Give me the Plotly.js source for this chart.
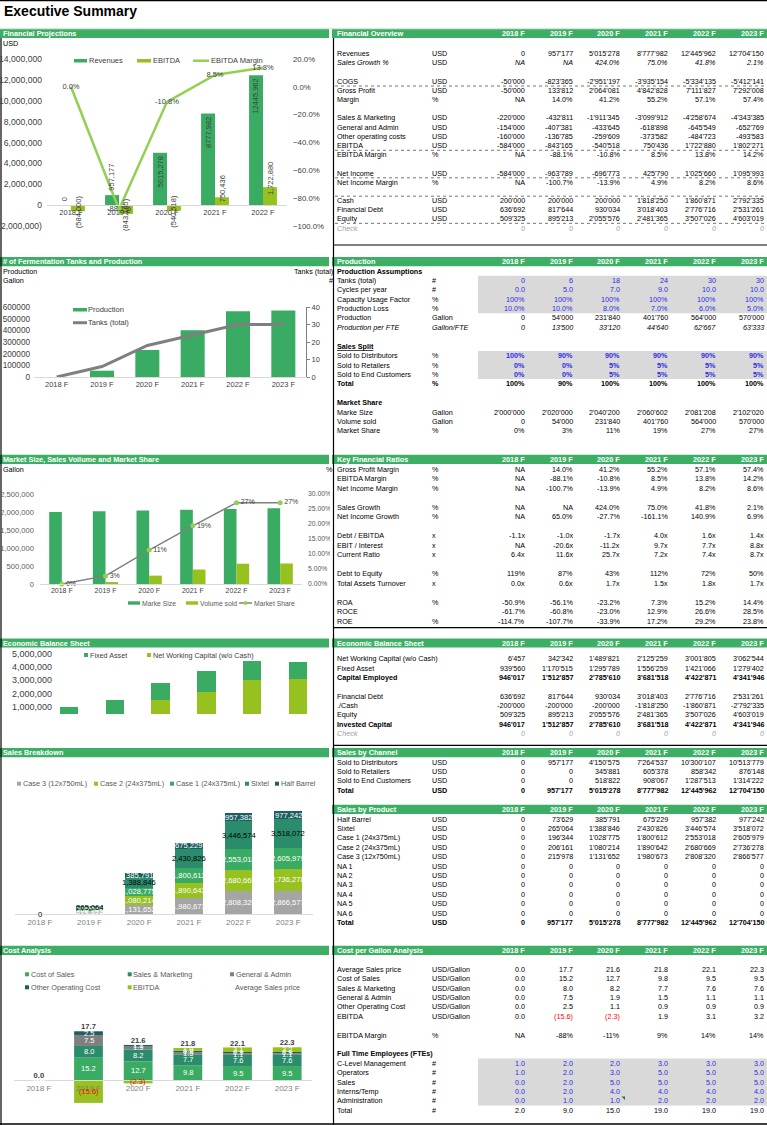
<!DOCTYPE html>
<html>
<head>
<meta charset="utf-8">
<title>Executive Summary</title>
<script src="https://cdn.plot.ly/plotly-3.0.1.min.js"></script>
<style>
html,body{margin:0;padding:0;background:#ffffff;}
#page{position:relative;width:767px;height:1125px;overflow:hidden;background:#fff;}
.layer{position:absolute;}
</style>
</head>
<body>
<div id="page">
  <div id="bg" class="layer"></div>
  <div id="c1" class="layer"></div>
  <div id="c2" class="layer"></div>
  <div id="c3" class="layer"></div>
  <div id="c4" class="layer"></div>
  <div id="c5" class="layer"></div>
  <div id="c6" class="layer"></div>
</div>
<script>
// ---------------- DATA ----------------
const years = ['2018 F','2019 F','2020 F','2021 F','2022 F','2023 F'];
const fpYears = ['2018 F','2019 F','2020 F','2021 F','2022 F'];

// Financial overview
const foRevenues = [0, 957177, 5015278, 8777982, 12445962, 12704150];
const foSalesGrowth = [null, null, 4.24, 0.75, 0.418, 0.021];
const foCogs = [-50000, -823365, -2951197, -3935154, -5334135, -5412141];
const foGrossProfit = [-50000, 133812, 2064081, 4842828, 7111827, 7292008];
const foMargin = [null, 0.140, 0.412, 0.552, 0.571, 0.574];
const foSalesMkt = [-220000, -432811, -1911345, -3099912, -4258674, -4343385];
const foGenAdmin = [-154000, -407381, -433645, -618898, -645549, -652769];
const foOtherCosts = [-160000, -136785, -259609, -373582, -484723, -493583];
const foEbitda = [-584000, -843165, -540518, 750436, 1722880, 1802271];
const foEbitdaMargin = [null, -0.881, -0.108, 0.085, 0.138, 0.142];
const foNetIncome = [-584000, -963789, -696773, 425790, 1025660, 1095993];
const foNetMargin = [null, -1.007, -0.139, 0.049, 0.082, 0.086];
const foCash = [200000, 200000, 200000, 1818250, 1860871, 2792335];
const foDebt = [636692, 817644, 930034, 3018403, 2776716, 2531261];
const foEquity = [509325, 895213, 2055576, 2481365, 3507026, 4603019];
const foCheck = [0, 0, 0, 0, 0, 0];

// Financial projections chart (2018-2022)
const fpRevenues = [0, 957177, 5015278, 8777982, 12445962];
const fpEbitda = [-584000, -843165, -540518, 750436, 1722880];
const fpMargin = [0, -0.881, -0.108, 0.085, 0.138];

// Production
const tanks = [0, 6, 18, 24, 30, 30];
const cycles = [0, 5, 7, 9, 10, 10];
const capacity = [1, 1, 1, 1, 1, 1];
const prodLoss = [0.10, 0.10, 0.08, 0.07, 0.06, 0.05];
const production = [0, 54000, 231840, 401760, 564000, 570000];
const prodPerFte = [0, 13500, 33120, 44640, 62667, 63333];
const splitDist = [1, 0.9, 0.9, 0.9, 0.9, 0.9];
const splitRet = [0, 0, 0.05, 0.05, 0.05, 0.05];
const splitEnd = [0, 0, 0.05, 0.05, 0.05, 0.05];
const splitTotal = [1, 0.9, 1, 1, 1, 1];
const marketSize = [2000000, 2020000, 2040200, 2060602, 2081208, 2102020];
const volumeSold = [0, 54000, 231840, 401760, 564000, 570000];
const marketShare = [0, 0.027, 0.113, 0.194, 0.271, 0.271];

// Key financial ratios
const kNetGrowth = [null, 0.65, -0.277, -1.611, 1.409, 0.069];
const kDebtEbitda = [-1.1, -1.0, -1.7, 4.0, 1.6, 1.4];
const kEbitInterest = [null, -20.6, -11.2, 9.7, 7.7, 8.8];
const kCurrentRatio = [6.4, 11.6, 25.7, 7.2, 7.4, 8.7];
const kDebtEquity = [1.19, 0.87, 0.43, 1.12, 0.72, 0.50];
const kAssetTurnover = [0.0, 0.6, 1.7, 1.5, 1.8, 1.7];
const kRoa = [-0.509, -0.561, -0.232, 0.073, 0.152, 0.144];
const kRoce = [-0.617, -0.608, -0.230, 0.129, 0.266, 0.285];
const kRoe = [-1.147, -1.077, -0.339, 0.172, 0.292, 0.238];

// Economic balance sheet
const ebNwc = [6457, 342342, 1489821, 2125259, 3001805, 3062544];
const ebFixed = [939560, 1170515, 1295789, 1556259, 1421066, 1279402];
const ebCapEmployed = [946017, 1512857, 2785610, 3681518, 4422871, 4341946];
const ebCashNeg = [-200000, -200000, -200000, -1818250, -1860871, -2792335];

// Sales by channel
const chDist = [0, 957177, 4150575, 7264537, 10300107, 10513779];
const chRet = [0, 0, 345881, 605378, 858342, 876148];
const chEnd = [0, 0, 518822, 908067, 1287513, 1314222];

// Sales by product
const pHalfBarrel = [0, 73629, 385791, 675229, 957382, 977242];
const pSixtel = [0, 265064, 1388846, 2430826, 3446574, 3518072];
const pCase1 = [0, 196344, 1028775, 1800612, 2553018, 2605979];
const pCase2 = [0, 206161, 1080214, 1890642, 2680669, 2736278];
const pCase3 = [0, 215978, 1131652, 1980673, 2808320, 2866577];
const pNone = [0, 0, 0, 0, 0, 0];

// Cost per gallon
const cgPrice = [0.0, 17.7, 21.6, 21.8, 22.1, 22.3];
const cgCostSales = [0.0, 15.2, 12.7, 9.8, 9.5, 9.5];
const cgSalesMkt = [0.0, 8.0, 8.2, 7.7, 7.6, 7.6];
const cgGenAdmin = [0.0, 7.5, 1.9, 1.5, 1.1, 1.1];
const cgOther = [0.0, 2.5, 1.1, 0.9, 0.9, 0.9];
const cgEbitda = [0.0, -15.6, -2.3, 1.9, 3.1, 3.2];
const cgEbitdaMargin = [null, -0.88, -0.11, 0.09, 0.14, 0.14];
const fteCLevel = [1, 2, 2, 3, 3, 3];
const fteOperators = [1, 2, 3, 5, 5, 5];
const fteSales = [0, 2, 5, 5, 5, 5];
const fteInterns = [0, 2, 4, 4, 4, 4];
const fteAdmin = [0, 1, 1, 2, 2, 2];
const fteTotal = [2, 9, 15, 19, 19, 19];

// ---------------- STYLE ----------------
const FONT = 'Liberation Sans, Arial, Helvetica, sans-serif';
const HEAD = '#3DAF64', GREEN = '#3AAB63', LGREEN = '#96C11F', LINEG = '#92D050';
const TEAL = '#2B8C6C', DTEAL = '#1C5E61', GREY = '#A5A5A5', DGREY = '#7F7F7F';
const SHADE = '#D9D9D9', BLUE = '#2B2BEB', TXT = '#404040';
const CFG = {staticPlot: true, displayModeBar: false};

// ---------------- FORMATTERS ----------------
function sw(n) {
  const s = Math.abs(Math.round(n)).toString().replace(/\B(?=(\d{3})+(?!\d))/g, "'");
  return (n < 0 ? '-' : '') + s;
}
const F = {
  int: v => v === null ? 'NA' : sw(v),
  p1: v => v === null ? 'NA' : (v * 100).toFixed(1) + '%',
  p0: v => v === null ? 'NA' : Math.round(v * 100) + '%',
  x1: v => v === null ? 'NA' : v.toFixed(1) + 'x',
  d1: v => v.toFixed(1),
  d0: v => String(v),
  acc1: v => v < 0 ? '(' + Math.abs(v).toFixed(1) + ')' : v.toFixed(1)
};
const us = v => Math.abs(v).toLocaleString('en-US');
const acct = v => v < 0 ? '(' + us(v) + ')' : us(v);

// ---------------- BACKGROUND (tables, headers, legends) ----------------
const W = 767, H = 1125;
const px = x => x / W, py = y => 1 - y / H;
const ann = [], shp = [];
function T(x, y, text, o) {
  o = o || {};
  ann.push({xref: 'paper', yref: 'paper', x: px(x), y: py(y), text: text, showarrow: false,
    xanchor: o.a || 'left', yanchor: 'middle', borderpad: 0, borderwidth: 0,
    font: {family: FONT, size: o.s || 7.2, color: o.c || '#000'}});
}
function R(x0, y0, x1, y1, fill) {
  shp.push({type: 'rect', xref: 'paper', yref: 'paper', x0: px(x0), x1: px(x1), y0: py(y0), y1: py(y1),
    fillcolor: fill, line: {width: 0}, layer: 'below'});
}
function L(x0, y0, x1, y1, color, w, dash) {
  shp.push({type: 'line', xref: 'paper', yref: 'paper', x0: px(x0), x1: px(x1), y0: py(y0), y1: py(y1),
    line: {color: color, width: w || 1, dash: dash || 'solid'}});
}
function C(xc, yc, r, fill) {
  shp.push({type: 'circle', xref: 'paper', yref: 'paper', x0: px(xc - r), x1: px(xc + r), y0: py(yc + r), y1: py(yc - r),
    fillcolor: fill, line: {width: 0}});
}

const colRight = [525, 572.5, 620, 667.7, 715.5, 763.5];
const X_LABEL = 337, X_UNIT = 432;

function header(side, yc, title, withYears) {
  const x0 = side === 'L' ? 0 : 332, x1 = side === 'L' ? 329 : 767;
  R(x0, yc - 4.6, x1, yc + 4.6, HEAD);
  T(side === 'L' ? 3 : X_LABEL, yc, '<b>' + title + '</b>', {c: '#fff', s: 7.3});
  if (withYears) years.forEach((yr, i) => T(colRight[i], yc, '<b>' + yr + '</b>', {a: 'right', c: '#fff', s: 7.3}));
}

const STY = {
  N: {}, I: {li: 1, vi: 1}, IU: {li: 1, vi: 1, ui: 1}, B: {lb: 1, ub: 1, vb: 1},
  C: {li: 1, vi: 1, lc: '#A0A0A0', vc: '#A0A0A0'}, IN: {vc: BLUE}, INB: {vc: BLUE, vb: 1},
  H: {lb: 1}, HU: {lb: 1, lu: 1}, RED: {neg: '#FF0000'}
};
function wrap(t, b, it, u) {
  if (u) t = '<span style="text-decoration:underline">' + t + '</span>';
  if (b) t = '<b>' + t + '</b>';
  if (it) t = '<i>' + t + '</i>';
  return t;
}
function tableRows(y0, h, spec) {
  const ys = {};
  spec.forEach(r => {
    const y = y0 + r.i * h;
    ys[r.i] = y;
    const st = STY[r.s || 'N'];
    if (r.l) T(X_LABEL, y, wrap(r.l, st.lb, st.li, st.lu), {c: st.lc || '#000'});
    if (r.u) T(r.ux || X_UNIT, y, wrap(r.u, st.ub, st.ui), {c: st.lc || '#000'});
    if (r.v) r.v.forEach((v, k) => {
      let col = st.vc || '#000';
      if (st.neg && v < 0) col = st.neg;
      T(colRight[k], y, wrap(r.f(v), st.vb, st.vi), {a: 'right', c: col});
    });
  });
  return ys;
}

// Title and frame
T(4, 11, '<b>Executive Summary</b>', {s: 14});
L(0, 0.6, 767, 0.6, '#000', 1.5);
L(0, 28.5, 767, 28.5, '#DCE6E0', 1.5);
L(1, 38, 1, 1125, '#000', 1.2);
L(333.5, 38, 333.5, 1125, '#000', 1.2);
L(333.5, 245, 767, 245, '#000', 1.2);
L(333.5, 627.7, 767, 627.7, '#000', 1.2);
L(333.5, 745.3, 767, 745.3, '#000', 1.2);
L(0, 1124, 767, 1124, '#000', 1.5);

// Section headers (left panels)
header('L', 33.5, 'Financial Projections');
header('L', 261.7, '# of Fermentation Tanks and Production');
header('L', 459.3, 'Market Size, Sales Voilume and Market Share');
header('L', 643, 'Economic Balance Sheet');
header('L', 752.7, 'Sales Breakdown');
header('L', 950.3, 'Cost Analysis');

// Right tables
header('R', 33.5, 'Financial Overview', true);
const foY = tableRows(53.7, 9.18, [
  {i: 0, l: 'Revenues', u: 'USD', v: foRevenues, f: F.int},
  {i: 1, l: 'Sales Growth %', u: 'USD', v: foSalesGrowth, f: F.p1, s: 'I'},
  {i: 3, l: 'COGS', u: 'USD', v: foCogs, f: F.int},
  {i: 4, l: 'Gross Profit', u: 'USD', v: foGrossProfit, f: F.int},
  {i: 5, l: 'Margin', u: '%', v: foMargin, f: F.p1},
  {i: 7, l: 'Sales &amp; Marketing', u: 'USD', v: foSalesMkt, f: F.int},
  {i: 8, l: 'General and Admin', u: 'USD', v: foGenAdmin, f: F.int},
  {i: 9, l: 'Other operating costs', u: 'USD', v: foOtherCosts, f: F.int},
  {i: 10, l: 'EBITDA', u: 'USD', v: foEbitda, f: F.int},
  {i: 11, l: 'EBITDA Margin', u: '%', v: foEbitdaMargin, f: F.p1},
  {i: 13, l: 'Net Income', u: 'USD', v: foNetIncome, f: F.int},
  {i: 14, l: 'Net Income Margin', u: '%', v: foNetMargin, f: F.p1},
  {i: 16, l: 'Cash', u: 'USD', v: foCash, f: F.int},
  {i: 17, l: 'Financial Debt', u: 'USD', v: foDebt, f: F.int},
  {i: 18, l: 'Equity', u: 'USD', v: foEquity, f: F.int},
  {i: 19, l: 'Check', v: foCheck, f: F.d0, s: 'C'}
]);
[[foY[4], -1], [foY[11], -1], [foY[14], -1], [foY[16], -1], [foY[18], 1]].forEach(p => {
  const yl = p[0] + p[1] * 4.4;
  L(335, yl, 767, yl, '#505050', 0.8, 'dot');
});

header('R', 261.7, 'Production', true);
R(478, 271 + 1 * 9.4 - 4.7, 767, 271 + 4 * 9.4 + 4.7, SHADE);
R(478, 271 + 9 * 9.4 - 4.7, 767, 271 + 11 * 9.4 + 4.7, SHADE);
tableRows(271, 9.4, [
  {i: 0, l: 'Production Assumptions', s: 'H'},
  {i: 1, l: 'Tanks (total)', u: '#', v: tanks, f: F.d0, s: 'IN'},
  {i: 2, l: 'Cycles per year', u: '#', v: cycles, f: F.d1, s: 'IN'},
  {i: 3, l: 'Capacity Usage Factor', u: '%', v: capacity, f: F.p0, s: 'IN'},
  {i: 4, l: 'Production Loss', u: '%', v: prodLoss, f: F.p1, s: 'IN'},
  {i: 5, l: 'Production', u: 'Gallon', v: production, f: F.int},
  {i: 6, l: 'Production per FTE', u: 'Gallon/FTE', v: prodPerFte, f: F.int, s: 'IU'},
  {i: 8, l: 'Sales Split', s: 'HU'},
  {i: 9, l: 'Sold to Distributors', u: '%', v: splitDist, f: F.p0, s: 'INB'},
  {i: 10, l: 'Sold to Retailers', u: '%', v: splitRet, f: F.p0, s: 'INB'},
  {i: 11, l: 'Sold to End Customers', u: '%', v: splitEnd, f: F.p0, s: 'INB'},
  {i: 12, l: 'Total', u: '%', v: splitTotal, f: F.p0, s: 'B'},
  {i: 14, l: 'Market Share', s: 'H'},
  {i: 15, l: 'Marke Size', u: 'Gallon', v: marketSize, f: F.int},
  {i: 16, l: 'Volume sold', u: 'Gallon', v: volumeSold, f: F.int},
  {i: 17, l: 'Market Share', u: '%', v: marketShare, f: F.p0}
]);

header('R', 459.3, 'Key Financial Ratios', true);
tableRows(469, 9.5, [
  {i: 0, l: 'Gross Profit Margin', u: '%', v: foMargin, f: F.p1},
  {i: 1, l: 'EBITDA Margin', u: '%', v: foEbitdaMargin, f: F.p1},
  {i: 2, l: 'Net Income Margin', u: '%', v: foNetMargin, f: F.p1},
  {i: 4, l: 'Sales Growth', u: '%', v: foSalesGrowth, f: F.p1},
  {i: 5, l: 'Net Income Growth', u: '%', v: kNetGrowth, f: F.p1},
  {i: 7, l: 'Debt / EBITDA', u: 'x', v: kDebtEbitda, f: F.x1},
  {i: 8, l: 'EBIT / Interest', u: 'x', v: kEbitInterest, f: F.x1},
  {i: 9, l: 'Current Ratio', u: 'x', v: kCurrentRatio, f: F.x1},
  {i: 11, l: 'Debt to Equity', u: '%', v: kDebtEquity, f: F.p0},
  {i: 12, l: 'Total Assets Turnover', u: 'x', v: kAssetTurnover, f: F.x1},
  {i: 14, l: 'ROA', u: '%', v: kRoa, f: F.p1},
  {i: 15, l: 'ROCE', v: kRoce, f: F.p1},
  {i: 16, l: 'ROE', u: '%', v: kRoe, f: F.p1}
]);

header('R', 643, 'Economic Balance Sheet', true);
tableRows(658.7, 9.35, [
  {i: 0, l: 'Net Working Capital (w/o Cash)', v: ebNwc, f: F.int},
  {i: 1, l: 'Fixed Asset', v: ebFixed, f: F.int},
  {i: 2, l: 'Capital Employed', v: ebCapEmployed, f: F.int, s: 'B'},
  {i: 4, l: 'Financial Debt', v: foDebt, f: F.int},
  {i: 5, l: './Cash', v: ebCashNeg, f: F.int},
  {i: 6, l: 'Equity', v: foEquity, f: F.int},
  {i: 7, l: 'Invested Capital', v: ebCapEmployed, f: F.int, s: 'B'},
  {i: 8, l: 'Check', v: foCheck, f: F.d0, s: 'C'}
]);

header('R', 752.7, 'Sales by Channel', true);
tableRows(762, 9.43, [
  {i: 0, l: 'Sold to Distributors', u: 'USD', v: chDist, f: F.int},
  {i: 1, l: 'Sold to Retailers', u: 'USD', v: chRet, f: F.int},
  {i: 2, l: 'Sold to End Customers', u: 'USD', v: chEnd, f: F.int},
  {i: 3, l: 'Total', u: 'USD', v: foRevenues, f: F.int, s: 'B'}
]);

header('R', 809.3, 'Sales by Product', true);
tableRows(819, 9.4, [
  {i: 0, l: 'Half Barrel', u: 'USD', v: pHalfBarrel, f: F.int},
  {i: 1, l: 'Sixtel', u: 'USD', v: pSixtel, f: F.int},
  {i: 2, l: 'Case 1 (24x375mL)', u: 'USD', v: pCase1, f: F.int},
  {i: 3, l: 'Case 2 (24x375mL)', u: 'USD', v: pCase2, f: F.int},
  {i: 4, l: 'Case 3 (12x750mL)', u: 'USD', v: pCase3, f: F.int},
  {i: 5, l: 'NA 1', u: 'USD', v: pNone, f: F.int},
  {i: 6, l: 'NA 2', u: 'USD', v: pNone, f: F.int},
  {i: 7, l: 'NA 3', u: 'USD', v: pNone, f: F.int},
  {i: 8, l: 'NA 4', u: 'USD', v: pNone, f: F.int},
  {i: 9, l: 'NA 5', u: 'USD', v: pNone, f: F.int},
  {i: 10, l: 'NA 6', u: 'USD', v: pNone, f: F.int},
  {i: 11, l: 'Total', u: 'USD', v: foRevenues, f: F.int, s: 'B'}
]);

header('R', 950.3, 'Cost per Gallon Analysis', true);
R(478, 969.3 + 10 * 9.4 - 4.7, 767, 969.3 + 14 * 9.4 + 4.7, SHADE);
tableRows(969.3, 9.4, [
  {i: 0, l: 'Average Sales price', u: 'USD/Gallon', v: cgPrice, f: F.d1},
  {i: 1, l: 'Cost of Sales', u: 'USD/Gallon', v: cgCostSales, f: F.d1},
  {i: 2, l: 'Sales &amp; Marketing', u: 'USD/Gallon', v: cgSalesMkt, f: F.d1},
  {i: 3, l: 'General &amp; Admin', u: 'USD/Gallon', v: cgGenAdmin, f: F.d1},
  {i: 4, l: 'Other Operating Cost', u: 'USD/Gallon', v: cgOther, f: F.d1},
  {i: 5, l: 'EBITDA', u: 'USD/Gallon', v: cgEbitda, f: F.acc1, s: 'RED'},
  {i: 7, l: 'EBITDA Margin', u: '%', v: cgEbitdaMargin, f: F.p0},
  {i: 9, l: 'Full Time Employees (FTEs)', s: 'H'},
  {i: 10, l: 'C-Level Management', u: '#', v: fteCLevel, f: F.d1, s: 'IN'},
  {i: 11, l: 'Operators', u: '#', v: fteOperators, f: F.d1, s: 'IN'},
  {i: 12, l: 'Sales', u: '#', v: fteSales, f: F.d1, s: 'IN'},
  {i: 13, l: 'Interns/Temp', u: '#', v: fteInterns, f: F.d1, s: 'IN'},
  {i: 14, l: 'Administration', u: '#', v: fteAdmin, f: F.d1, s: 'IN'},
  {i: 15, l: 'Total', u: '#', v: fteTotal, f: F.d1}
]);
// small comment flag in the Administration / 2020 F cell
shp.push({type: 'path', xref: 'paper', yref: 'paper',
  path: 'M' + px(621.5) + ',' + py(1096.6) + ' L' + px(625) + ',' + py(1096.6) + ' L' + px(625) + ',' + py(1100) + ' Z',
  fillcolor: '#1E7B32', line: {width: 0}});

// Chart units / axis titles
T(3, 44, 'USD');
T(3, 271.7, 'Production');
T(3, 280.7, 'Gallon');
T(333, 271.7, 'Tanks (total)', {a: 'right'});
T(333, 280.7, '#', {a: 'right'});
T(3, 469, 'Gallon');
T(333, 469, '%', {a: 'right'});

// Legends
const LG = {s: 7.5, c: TXT};
R(74, 59, 87, 62.5, GREEN); T(88.5, 60.7, 'Revenues', LG);
R(137, 59, 151, 62.5, LGREEN); T(153, 60.7, 'EBITDA', LG);
L(193, 60.7, 209, 60.7, LINEG, 2.5); T(210.5, 60.7, 'EBITDA Margin', LG);

R(73, 308, 87, 311.5, GREEN); T(88, 309.7, 'Production', LG);
L(73, 322.7, 87, 322.7, DGREY, 3); T(88, 322.7, 'Tanks (total)', LG);

const LG3 = {s: 6.8, c: '#595959'};
R(128, 601.3, 140, 604.7, GREEN); T(141.5, 603, 'Marke Size', LG3);
R(186, 601.3, 198, 604.7, LGREEN); T(199.5, 603, 'Volume sold', LG3);
L(239, 603, 252, 603, '#808080', 1.5); C(245.5, 603, 2, LINEG); T(253.5, 603, 'Market Share', LG3);

const LG4 = {s: 7.2, c: TXT};
R(84, 653, 88, 657, GREEN); T(90, 655, 'Fixed Asset', LG4);
R(147, 653, 151, 657, LGREEN); T(153, 655, 'Net Working Capital (w/o Cash)', LG4);

const LG5 = {s: 7.3, c: '#595959'};
[[17, GREY, 'Case 3 (12x750mL)'], [94, LGREEN, 'Case 2 (24x375mL)'], [170, GREEN, 'Case 1 (24x375mL)'],
 [245, TEAL, 'Sixtel'], [275, DTEAL, 'Half Barrel']].forEach(e => {
  R(e[0], 781.7, e[0] + 4, 785.7, e[1]); T(e[0] + 5.5, 783.7, e[2], LG5);
});
[[25, 974.3, GREEN, 'Cost of Sales'], [127.7, 974.3, TEAL, 'Sales &amp; Marketing'], [230, 974.3, DGREY, 'General &amp; Admin'],
 [25, 987.3, DTEAL, 'Other Operating Cost'], [127.7, 987.3, LGREEN, 'EBITDA']].forEach(e => {
  R(e[0], e[1] - 2, e[0] + 4, e[1] + 2, e[2]); T(e[0] + 5.5, e[1], e[3], LG5);
});
T(235, 987.3, 'Average Sales price', LG5);

function place(id, left, top, w, h) {
  const d = document.getElementById(id);
  d.style.left = left + 'px'; d.style.top = top + 'px';
  d.style.width = w + 'px'; d.style.height = h + 'px';
  return d;
}

Plotly.newPlot(place('bg', 0, 0, W, H), [], {
  width: W, height: H, margin: {l: 0, r: 0, t: 0, b: 0}, paper_bgcolor: '#fff', plot_bgcolor: '#fff',
  xaxis: {visible: false, range: [0, 1]}, yaxis: {visible: false, range: [0, 1]},
  showlegend: false, annotations: ann, shapes: shp
}, CFG);

// ---------------- CHARTS ----------------
function base(w, h, m) {
  return {width: w, height: h, margin: m, paper_bgcolor: 'rgba(0,0,0,0)', plot_bgcolor: 'rgba(0,0,0,0)',
    showlegend: false, font: {family: FONT, size: 7.5, color: TXT}};
}
const tf = (s, c) => ({family: FONT, size: s, color: c || TXT});

// Chart 1: Financial projections
const c1Y = [-2000000, 14000000];
const c1Ticks = [-2e6, 0, 2e6, 4e6, 6e6, 8e6, 10e6, 12e6, 14e6];
const c1Gap = 0.42, c1Half = (1 - c1Gap) / 4;
const excelOdd = v => v >= 1e6 ? Math.floor(v / 1000) + ',' + String(v % 1000).padStart(3, '0') : v.toLocaleString('en-US');
const c1Ann = [];
fpRevenues.forEach((v, i) => {
  const inside = v > 3e6;
  c1Ann.push({xref: 'x', yref: 'y', x: i - c1Half, y: v, text: excelOdd(v), textangle: -90, showarrow: false,
    yanchor: inside ? 'top' : 'bottom', yshift: inside ? -3 : 3, borderpad: 0, font: tf(7.5)});
});
fpEbitda.forEach((v, i) => {
  c1Ann.push({xref: 'x', yref: 'y', x: i + c1Half, y: v, text: acct(v), textangle: -90, showarrow: false,
    yanchor: 'middle', yshift: v < 0 ? 0 : 9, borderpad: 0, font: tf(7.5)});
});
Plotly.newPlot(place('c1', 0, 40, 330, 200), [
  {type: 'bar', name: 'Revenues', x: fpYears, y: fpRevenues, marker: {color: GREEN}},
  {type: 'bar', name: 'EBITDA', x: fpYears, y: fpEbitda, marker: {color: LGREEN}},
  {type: 'scatter', name: 'EBITDA Margin', mode: 'lines+text', x: fpYears, y: fpMargin, yaxis: 'y2',
    line: {color: LINEG, width: 2.5}, text: fpMargin.map(F.p1), textposition: 'middle center',
    textfont: tf(7.5), cliponaxis: false}
], Object.assign(base(330, 200, {l: 47, r: 43, t: 19, b: 14}), {
  barmode: 'group', bargap: c1Gap, bargroupgap: 0,
  xaxis: {type: 'category', anchor: 'free', position: (0 - c1Y[0]) / (c1Y[1] - c1Y[0]), showline: true,
    linecolor: '#D9D9D9', ticks: '', showgrid: false, zeroline: false, tickfont: tf(7.5)},
  yaxis: {range: c1Y, tickvals: c1Ticks,
    ticktext: c1Ticks.map(v => v < 0 ? '(' + us(v) + ')' : us(v)),
    showgrid: false, zeroline: false, ticks: '', ticklabelstandoff: 4, tickfont: tf(8.6)},
  yaxis2: {overlaying: 'y', side: 'right', range: [-1, 0.2], tickvals: [-1, -0.8, -0.6, -0.4, -0.2, 0, 0.2],
    tickformat: '.1%', showgrid: false, zeroline: false, ticks: '', ticklabelstandoff: 5, tickfont: tf(7.8)},
  annotations: c1Ann
}), CFG);

// Chart 2: Fermentation tanks and production
Plotly.newPlot(place('c2', 0, 290, 330, 110), [
  {type: 'bar', name: 'Production', x: years, y: production, marker: {color: GREEN}},
  {type: 'scatter', name: 'Tanks (total)', mode: 'lines', x: years, y: tanks, yaxis: 'y2', line: {color: DGREY, width: 3}}
], Object.assign(base(330, 110, {l: 34, r: 24, t: 17, b: 23}), {
  bargap: 0.47,
  xaxis: {type: 'category', showline: true, linecolor: '#D9D9D9', ticks: '', showgrid: false, zeroline: false, tickfont: tf(7.5)},
  yaxis: {range: [0, 600000], dtick: 100000, tickformat: 'd', showgrid: false, zeroline: false, ticks: '',
    ticklabelstandoff: 3, tickfont: tf(8.2)},
  yaxis2: {overlaying: 'y', side: 'right', range: [0, 40], dtick: 10, showgrid: false, zeroline: false,
    showline: true, linecolor: DGREY, ticks: 'outside', ticklen: 3, tickcolor: DGREY, tickfont: tf(7.5)}
}), CFG);

// Chart 3: Market size, volume and share
Plotly.newPlot(place('c3', 0, 480, 330, 120), [
  {type: 'bar', name: 'Marke Size', x: years, y: marketSize, marker: {color: GREEN}},
  {type: 'bar', name: 'Volume sold', x: years, y: volumeSold, marker: {color: LGREEN}},
  {type: 'scatter', name: 'Market Share', mode: 'lines+markers+text', x: years, y: marketShare, yaxis: 'y2',
    line: {color: '#808080', width: 1.5}, marker: {size: 5, color: LINEG},
    text: marketShare.map(F.p0), textposition: 'middle right', textfont: tf(7), cliponaxis: false}
], Object.assign(base(330, 120, {l: 40, r: 28, t: 14, b: 16}), {
  barmode: 'group', bargap: 0.42, bargroupgap: 0,
  xaxis: {type: 'category', showline: true, linecolor: '#D9D9D9', ticks: '', showgrid: false, zeroline: false, tickfont: tf(7)},
  yaxis: {range: [0, 2500000], dtick: 500000, tickformat: ',', showgrid: false, zeroline: false, ticks: '',
    ticklabelstandoff: 5, tickfont: tf(7.6, '#595959')},
  yaxis2: {overlaying: 'y', side: 'right', range: [0, 0.3], dtick: 0.05, tickformat: '.2%', showgrid: false,
    zeroline: false, ticks: '', ticklabelstandoff: 5, tickfont: tf(6.8, '#595959')}
}), CFG);

// Chart 4: Economic balance sheet
Plotly.newPlot(place('c4', 0, 648, 330, 66), [
  {type: 'bar', name: 'Net Working Capital (w/o Cash)', x: years, y: ebNwc, marker: {color: LGREEN}},
  {type: 'bar', name: 'Fixed Asset', x: years, y: ebFixed, marker: {color: GREEN}}
], Object.assign(base(330, 66, {l: 56, r: 9, t: 0, b: 0}), {
  barmode: 'stack', bargap: 0.6,
  xaxis: {type: 'category', range: [-0.28, 5.5], visible: false},
  yaxis: {range: [452800, 5434000], tickvals: [1e6, 2e6, 3e6, 4e6, 5e6], tickformat: ',', showgrid: false,
    zeroline: false, ticks: '', ticklabelstandoff: 3, tickfont: tf(9)}
}), CFG);

// Chart 5: Sales breakdown
const sbSeries = [pCase3, pCase2, pCase1, pSixtel, pHalfBarrel];
const sbNames = ['Case 3 (12x750mL)', 'Case 2 (24x375mL)', 'Case 1 (24x375mL)', 'Sixtel', 'Half Barrel'];
const sbColors = [GREY, LGREEN, GREEN, TEAL, DTEAL];
const sbLabelColors = ['#ffffff', '#ffffff', '#ffffff', '#000000', '#ffffff'];
const sbBase = [0, 0, 0, 0, 0, 0];
const c5White = [], c5Black = [];
sbSeries.forEach((s, k) => s.forEach((v, i) => {
  const a = {xref: 'x', yref: 'y', x: i, y: sbBase[i] + v / 2, text: v.toLocaleString('en-US'), showarrow: false,
    borderpad: 0, font: tf(7.6, sbLabelColors[k])};
  (sbLabelColors[k] === '#000000' ? c5Black : c5White).push(a);
  sbBase[i] += v;
}));
Plotly.newPlot(place('c5', 0, 790, 330, 145),
  sbSeries.map((s, k) => ({type: 'bar', name: sbNames[k], x: years, y: s, marker: {color: sbColors[k]}})),
  Object.assign(base(330, 145, {l: 15, r: 17, t: 5, b: 21}), {
    barmode: 'stack', bargap: 0.44,
    xaxis: {type: 'category', showline: true, linecolor: '#D9D9D9', ticks: '', showgrid: false, zeroline: false, tickfont: tf(8, DGREY)},
    yaxis: {range: [0, 14730000], visible: false},
    annotations: c5White.concat(c5Black)
  }), CFG);

// Chart 6: Cost analysis (per gallon)
const caSeries = [cgCostSales, cgSalesMkt, cgGenAdmin, cgOther, cgEbitda];
const caNames = ['Cost of Sales', 'Sales & Marketing', 'General & Admin', 'Other Operating Cost', 'EBITDA'];
const caColors = [GREEN, TEAL, DGREY, DTEAL, LGREEN];
const caPos = [0, 0, 0, 0, 0, 0], caNeg = [0, 0, 0, 0, 0, 0];
const c6Ann = [];
caSeries.forEach(s => s.forEach((v, i) => {
  let mid;
  if (v >= 0) { mid = caPos[i] + v / 2; caPos[i] += v; } else { mid = caNeg[i] + v / 2; caNeg[i] += v; }
  c6Ann.push({xref: 'x', yref: 'y', x: i, y: mid, text: F.acc1(v), showarrow: false, borderpad: 0,
    font: tf(7.5, v < 0 ? '#FF0000' : '#ffffff')});
}));
const c6Y = [-19.09, 54.53];
Plotly.newPlot(place('c6', 0, 1000, 330, 120),
  caSeries.map((s, k) => ({type: 'bar', name: caNames[k], x: years, y: s, marker: {color: caColors[k]}})).concat([
    {type: 'scatter', name: 'Average Sales price', mode: 'text', x: years, y: caPos,
      text: cgPrice.map(v => '<b>' + v.toFixed(1) + '</b>'), textposition: 'top center', textfont: tf(7.6, TXT), cliponaxis: false}
  ]),
  Object.assign(base(330, 120, {l: 14, r: 18, t: 0, b: 12}), {
    barmode: 'relative', bargap: 0.42,
    xaxis: {type: 'category', anchor: 'free', position: (0 - c6Y[0]) / (c6Y[1] - c6Y[0]), showline: true,
      linecolor: '#D9D9D9', ticks: '', showgrid: false, zeroline: false, tickfont: tf(8, DGREY)},
    yaxis: {range: c6Y, visible: false},
    annotations: c6Ann
  }), CFG);
</script>
</body>
</html>
